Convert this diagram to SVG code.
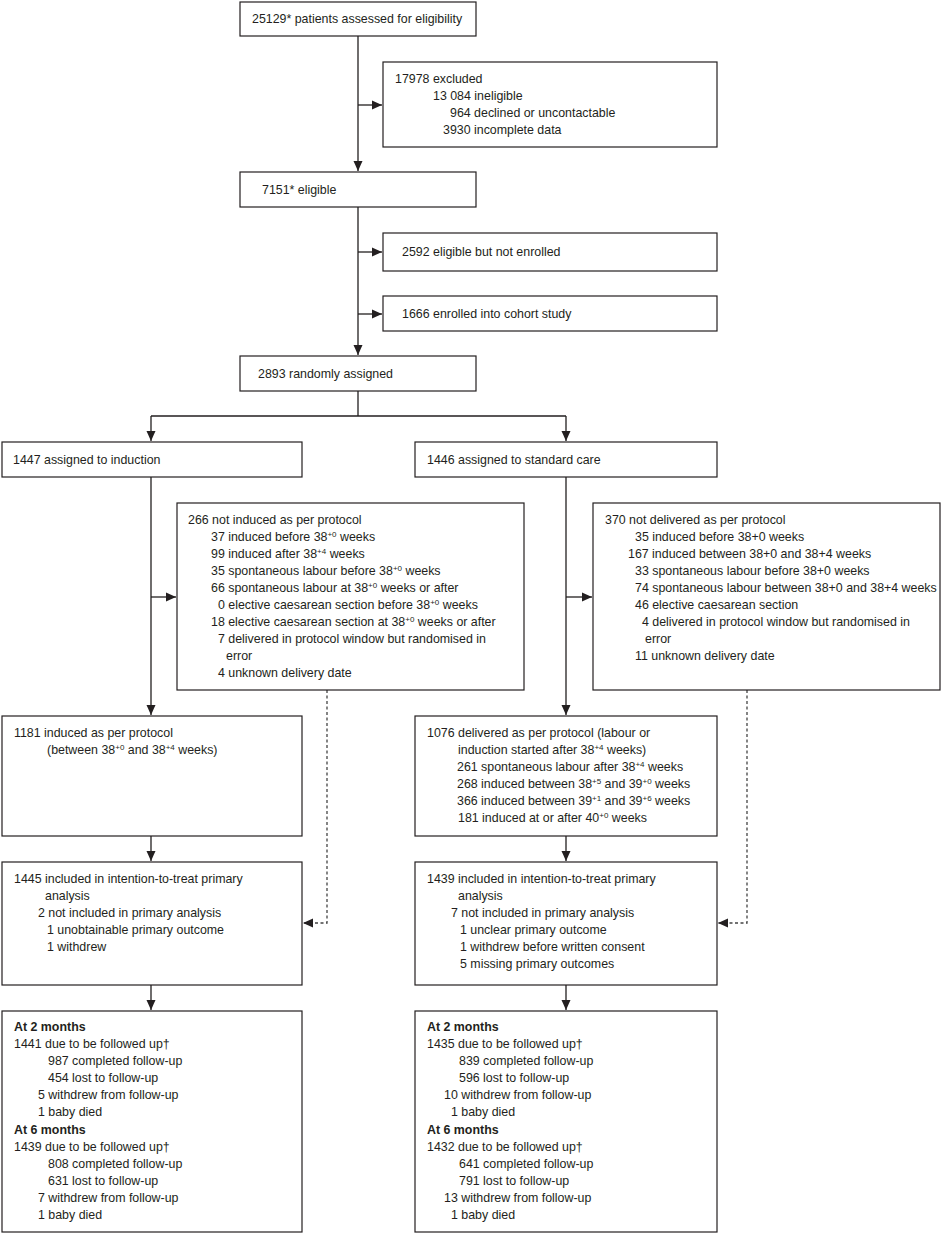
<svg xmlns="http://www.w3.org/2000/svg" width="941" height="1235" viewBox="0 0 941 1235">
<style>
text{font-family:"Liberation Sans",Arial,sans-serif;font-size:12.4px;fill:#231f20}
.b{font-weight:bold}
.sup{font-size:8px}
.box{fill:#fff;stroke:#231f20;stroke-width:1.2}
.ln{fill:none;stroke:#231f20;stroke-width:1.3}
.ds{fill:none;stroke:#444;stroke-width:1.3;stroke-dasharray:3 2.5}
</style>
<defs>
<marker id="ah" markerUnits="userSpaceOnUse" markerWidth="11" markerHeight="10" refX="10" refY="5" orient="auto">
<path d="M0,0.5 L10,5 L0,9.5 Z" fill="#231f20"/>
</marker>
</defs>
<rect width="941" height="1235" fill="#fff"/>
<g id="connectors">
<path class="ln" d="M358,36 V171" marker-end="url(#ah)"/>
<path class="ln" d="M358,105 H382" marker-end="url(#ah)"/>
<path class="ln" d="M358,207 V355" marker-end="url(#ah)"/>
<path class="ln" d="M358,252 H382" marker-end="url(#ah)"/>
<path class="ln" d="M358,314 H382" marker-end="url(#ah)"/>
<path class="ln" d="M358,391 V416 M151,416 H566"/>
<path class="ln" d="M151,416 V441" marker-end="url(#ah)"/>
<path class="ln" d="M566,416 V441" marker-end="url(#ah)"/>
<path class="ln" d="M151,477 V715" marker-end="url(#ah)"/>
<path class="ln" d="M151,597 H176" marker-end="url(#ah)"/>
<path class="ln" d="M566,477 V715" marker-end="url(#ah)"/>
<path class="ln" d="M566,597 H592" marker-end="url(#ah)"/>
<path class="ln" d="M151,836 V861" marker-end="url(#ah)"/>
<path class="ln" d="M566,836 V861" marker-end="url(#ah)"/>
<path class="ln" d="M151,985 V1010" marker-end="url(#ah)"/>
<path class="ln" d="M566,985 V1010" marker-end="url(#ah)"/>
<path class="ds" d="M327,690 V923 H303" marker-end="url(#ah)"/>
<path class="ds" d="M747,690 V923 H718" marker-end="url(#ah)"/>
</g>
<g id="assessed">
<rect class="box" x="240" y="2" width="236" height="34"/>
<text x="252" y="23">25129* patients assessed for eligibility</text>
</g>
<g id="excluded">
<rect class="box" x="383" y="62" width="334" height="85"/>
<text x="395" y="83">17978 excluded</text>
<text x="433" y="100">13 084 ineligible</text>
<text x="450" y="117">964 declined or uncontactable</text>
<text x="443" y="134">3930 incomplete data</text>
</g>
<g id="eligible">
<rect class="box" x="240" y="172" width="236" height="35"/>
<text x="262" y="194">7151* eligible</text>
</g>
<g id="notenrolled">
<rect class="box" x="383" y="233" width="334" height="38"/>
<text x="402" y="256">2592 eligible but not enrolled</text>
</g>
<g id="cohort">
<rect class="box" x="383" y="296" width="334" height="35"/>
<text x="402" y="318">1666 enrolled into cohort study</text>
</g>
<g id="randomised">
<rect class="box" x="240" y="356" width="236" height="35"/>
<text x="258" y="378">2893 randomly assigned</text>
</g>
<g id="induction">
<rect class="box" x="2" y="442" width="300" height="35"/>
<text x="13" y="464">1447 assigned to induction</text>
</g>
<g id="standard">
<rect class="box" x="415" y="442" width="302" height="35"/>
<text x="427" y="464">1446 assigned to standard care</text>
</g>
<g id="notinduced">
<rect class="box" x="177" y="503" width="347" height="187"/>
<text x="188" y="524">266 not induced as per protocol</text>
<text x="211" y="541">37 induced before 38<tspan class="sup" dy="-4">+0</tspan><tspan dy="4"> weeks</tspan></text>
<text x="211" y="558">99 induced after 38<tspan class="sup" dy="-4">+4</tspan><tspan dy="4"> weeks</tspan></text>
<text x="211" y="575">35 spontaneous labour before 38<tspan class="sup" dy="-4">+0</tspan><tspan dy="4"> weeks</tspan></text>
<text x="211" y="592">66 spontaneous labour at 38<tspan class="sup" dy="-4">+0</tspan><tspan dy="4"> weeks or after</tspan></text>
<text x="218" y="609">0 elective caesarean section before 38<tspan class="sup" dy="-4">+0</tspan><tspan dy="4"> weeks</tspan></text>
<text x="211" y="626">18 elective caesarean section at 38<tspan class="sup" dy="-4">+0</tspan><tspan dy="4"> weeks or after</tspan></text>
<text x="218" y="643">7 delivered in protocol window but randomised in</text>
<text x="226" y="660">error</text>
<text x="218" y="677">4 unknown delivery date</text>
</g>
<g id="notdelivered">
<rect class="box" x="593" y="503" width="347" height="187"/>
<text x="605" y="524">370 not delivered as per protocol</text>
<text x="635" y="541">35 induced before 38+0 weeks</text>
<text x="628" y="558">167 induced between 38+0 and 38+4 weeks</text>
<text x="635" y="575">33 spontaneous labour before 38+0 weeks</text>
<text x="635" y="592">74 spontaneous labour between 38+0 and 38+4 weeks</text>
<text x="635" y="609">46 elective caesarean section</text>
<text x="642" y="626">4 delivered in protocol window but randomised in</text>
<text x="645" y="643">error</text>
<text x="635" y="660">11 unknown delivery date</text>
</g>
<g id="inducedpp">
<rect class="box" x="2" y="716" width="300" height="120"/>
<text x="14" y="737">1181 induced as per protocol</text>
<text x="47" y="754">(between 38<tspan class="sup" dy="-4">+0</tspan><tspan dy="4"> and 38</tspan><tspan class="sup" dy="-4">+4</tspan><tspan dy="4"> weeks)</tspan></text>
</g>
<g id="deliveredpp">
<rect class="box" x="415" y="716" width="302" height="120"/>
<text x="427" y="737">1076 delivered as per protocol (labour or</text>
<text x="458" y="754">induction started after 38<tspan class="sup" dy="-4">+4</tspan><tspan dy="4"> weeks)</tspan></text>
<text x="457" y="771">261 spontaneous labour after 38<tspan class="sup" dy="-4">+4</tspan><tspan dy="4"> weeks</tspan></text>
<text x="457" y="788">268 induced between 38<tspan class="sup" dy="-4">+5</tspan><tspan dy="4"> and 39</tspan><tspan class="sup" dy="-4">+0</tspan><tspan dy="4"> weeks</tspan></text>
<text x="457" y="805">366 induced between 39<tspan class="sup" dy="-4">+1</tspan><tspan dy="4"> and 39</tspan><tspan class="sup" dy="-4">+6</tspan><tspan dy="4"> weeks</tspan></text>
<text x="458" y="822">181 induced at or after 40<tspan class="sup" dy="-4">+0</tspan><tspan dy="4"> weeks</tspan></text>
</g>
<g id="ittleft">
<rect class="box" x="2" y="862" width="300" height="123"/>
<text x="14" y="883">1445 included in intention-to-treat primary</text>
<text x="45" y="900">analysis</text>
<text x="38" y="917">2 not included in primary analysis</text>
<text x="47" y="934">1 unobtainable primary outcome</text>
<text x="47" y="951">1 withdrew</text>
</g>
<g id="ittright">
<rect class="box" x="415" y="862" width="302" height="123"/>
<text x="427" y="883">1439 included in intention-to-treat primary</text>
<text x="458" y="900">analysis</text>
<text x="451" y="917">7 not included in primary analysis</text>
<text x="460" y="934">1 unclear primary outcome</text>
<text x="460" y="951">1 withdrew before written consent</text>
<text x="460" y="968">5 missing primary outcomes</text>
</g>
<g id="followleft">
<rect class="box" x="2" y="1011" width="300" height="221"/>
<text class="b" x="14" y="1031">At 2 months</text>
<text x="14" y="1048">1441 due to be followed up†</text>
<text x="48" y="1065">987 completed follow-up</text>
<text x="48" y="1082">454 lost to follow-up</text>
<text x="38" y="1099">5 withdrew from follow-up</text>
<text x="38" y="1116">1 baby died</text>
<text class="b" x="14" y="1134">At 6 months</text>
<text x="14" y="1151">1439 due to be followed up†</text>
<text x="48" y="1168">808 completed follow-up</text>
<text x="48" y="1185">631 lost to follow-up</text>
<text x="38" y="1202">7 withdrew from follow-up</text>
<text x="38" y="1219">1 baby died</text>
</g>
<g id="followright">
<rect class="box" x="415" y="1011" width="302" height="221"/>
<text class="b" x="427" y="1031">At 2 months</text>
<text x="427" y="1048">1435 due to be followed up†</text>
<text x="459" y="1065">839 completed follow-up</text>
<text x="459" y="1082">596 lost to follow-up</text>
<text x="444" y="1099">10 withdrew from follow-up</text>
<text x="451" y="1116">1 baby died</text>
<text class="b" x="427" y="1134">At 6 months</text>
<text x="427" y="1151">1432 due to be followed up†</text>
<text x="459" y="1168">641 completed follow-up</text>
<text x="459" y="1185">791 lost to follow-up</text>
<text x="444" y="1202">13 withdrew from follow-up</text>
<text x="451" y="1219">1 baby died</text>
</g>
</svg>
